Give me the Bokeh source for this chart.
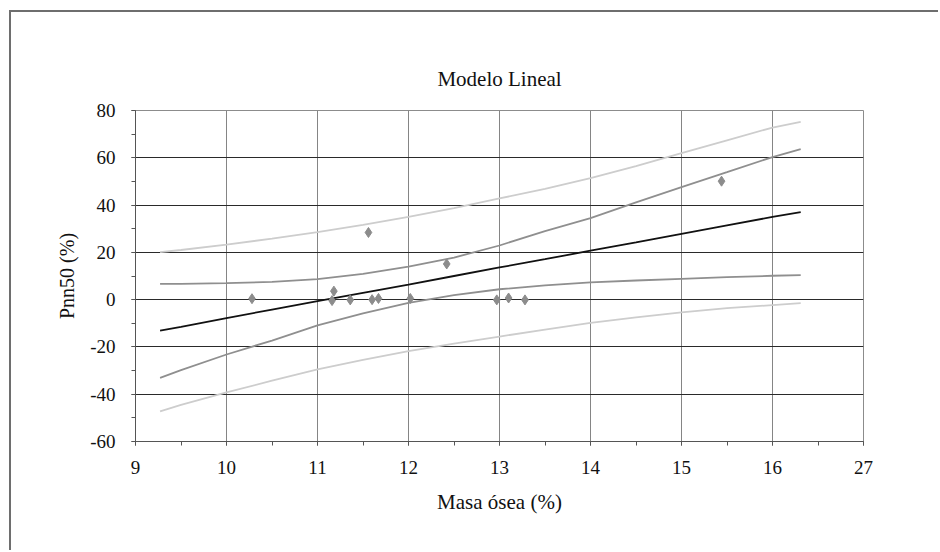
from bokeh.plotting import figure
from bokeh.models import Range1d, SingleIntervalTicker, FixedTicker, ColumnDataSource
from bokeh.embed import file_html
from bokeh.resources import INLINE

# ---- data ----
x_ticks = [9, 10, 11, 12, 13, 14, 15, 16, 17]
x_tick_labels = ["9", "10", "11", "12", "13", "14", "15", "16", "27"]
y_ticks = [-60, -40, -20, 0, 20, 40, 60, 80]
y_tick_labels = ["-60", "-40", "-20", "0", "20", "40", "60", "80"]

# observed points: Masa ósea (%) vs Pnn50 (%)
pts_x = [10.28, 11.18, 11.16, 11.36, 11.60, 11.67, 12.02, 11.56, 12.42, 12.97, 13.10, 13.28, 15.44]
pts_y = [0.4, 3.6, -0.4, -0.1, 0.0, 0.5, 0.5, 28.4, 15.1, -0.1, 0.7, -0.1, 50.1]

# fitted curves (sampled along x)
curve_x = [9.27, 9.5, 10, 10.5, 11, 11.5, 12, 12.5, 13, 13.5, 14, 14.5, 15, 15.5, 16, 16.31]
fit_y = [-13.1, -11.5, -7.8, -4.2, -0.6, 2.9, 6.4, 10.0, 13.6, 17.1, 20.7, 24.2, 27.8, 31.4, 35.0, 37.0]
ci_upper = [6.7, 6.7, 7.0, 7.5, 8.7, 10.9, 14.0, 17.8, 22.9, 29.0, 34.5, 41.1, 47.6, 53.9, 60.3, 63.7]
ci_lower = [-33.1, -29.8, -23.2, -17.3, -10.9, -5.8, -1.4, 1.9, 4.4, 6.0, 7.3, 8.1, 8.8, 9.5, 10.1, 10.4]
pi_upper = [20.1, 21.0, 23.3, 25.8, 28.6, 31.6, 35.0, 38.7, 42.8, 46.9, 51.4, 56.5, 62.0, 67.4, 72.8, 75.2]
pi_lower = [-47.3, -44.5, -39.2, -34.3, -29.5, -25.5, -21.8, -18.6, -15.6, -12.7, -9.8, -7.5, -5.4, -3.6, -2.3, -1.5]

title_text = "Modelo Lineal"
x_label = "Masa ósea (%)"
y_label = "Pnn50 (%)"

FONT = "'Liberation Serif', 'Times New Roman', serif"

p = figure(
    width=929, height=540,
    x_range=Range1d(x_ticks[0], x_ticks[-1]),
    y_range=Range1d(y_ticks[0], y_ticks[-1]),
    output_backend="svg", toolbar_location=None,
    min_border_left=124, min_border_right=77,
    min_border_top=98, min_border_bottom=111,
    title=title_text,
)
p.styles = {
    "border-left": "2px solid #6e6e6e",
    "border-top": "2px solid #6e6e6e",
    "border-right": "0px none",
    "border-bottom": "0px none",
    "margin-left": "9px",
    "margin-top": "10px",
}

p.title.align = "center"
p.title.text_font = FONT
p.title.text_font_size = "21px"
p.title.text_font_style = "normal"
p.title.text_color = "#111111"
p.title.standoff = 40

# axes
p.xaxis.ticker = SingleIntervalTicker(interval=1, num_minor_ticks=2)
p.yaxis.ticker = SingleIntervalTicker(interval=20, num_minor_ticks=2)
p.xaxis.major_label_overrides = {k: v for k, v in zip(x_ticks, x_tick_labels)}
p.yaxis.major_label_overrides = {k: v for k, v in zip(y_ticks, y_tick_labels)}
for ax in (p.xaxis, p.yaxis):
    ax.axis_line_color = "#555555"
    ax.axis_line_width = 1
    ax.major_tick_line_color = "#555555"
    ax.minor_tick_line_color = "#555555"
    ax.major_tick_in = 0
    ax.major_tick_out = 4
    ax.minor_tick_in = 0
    ax.minor_tick_out = 4
    ax.major_label_text_font = FONT
    ax.major_label_text_font_size = "19px"
    ax.major_label_text_color = "#111111"
    ax.axis_label_text_font = FONT
    ax.axis_label_text_font_size = "21px"
    ax.axis_label_text_font_style = "normal"
    ax.axis_label_text_color = "#111111"
p.yaxis.axis_label_text_font_size = "20px"
p.xaxis.axis_label = x_label
p.yaxis.axis_label = y_label
p.xaxis.major_label_standoff = 15
p.yaxis.major_label_standoff = 16
p.xaxis.axis_label_standoff = 13
p.yaxis.axis_label_standoff = 9

# grid
p.xgrid.ticker = FixedTicker(ticks=x_ticks[1:-1])
p.ygrid.ticker = FixedTicker(ticks=y_ticks[1:-1])
p.xgrid.grid_line_color = "#858585"
p.ygrid.grid_line_color = "#2a2a2a"
p.xgrid.grid_line_width = 1
p.ygrid.grid_line_width = 1
p.outline_line_color = "#8c8c8c"
p.outline_line_width = 1
p.background_fill_color = "white"
p.border_fill_color = "white"

src = ColumnDataSource(dict(x=curve_x, fit=fit_y, ciu=ci_upper, cil=ci_lower, piu=pi_upper, pil=pi_lower))
p.line("x", "piu", source=src, line_color="#cdcdcd", line_width=1.8)
p.line("x", "pil", source=src, line_color="#cdcdcd", line_width=1.8)
p.line("x", "ciu", source=src, line_color="#8f8f8f", line_width=1.8)
p.line("x", "cil", source=src, line_color="#8f8f8f", line_width=1.8)
p.line("x", "fit", source=src, line_color="#111111", line_width=1.8)
p.scatter(pts_x, pts_y, marker="diamond", size=10, fill_color="#8c8c8c", line_color="#8c8c8c")

open("out.html", "w").write(file_html(p, INLINE))
